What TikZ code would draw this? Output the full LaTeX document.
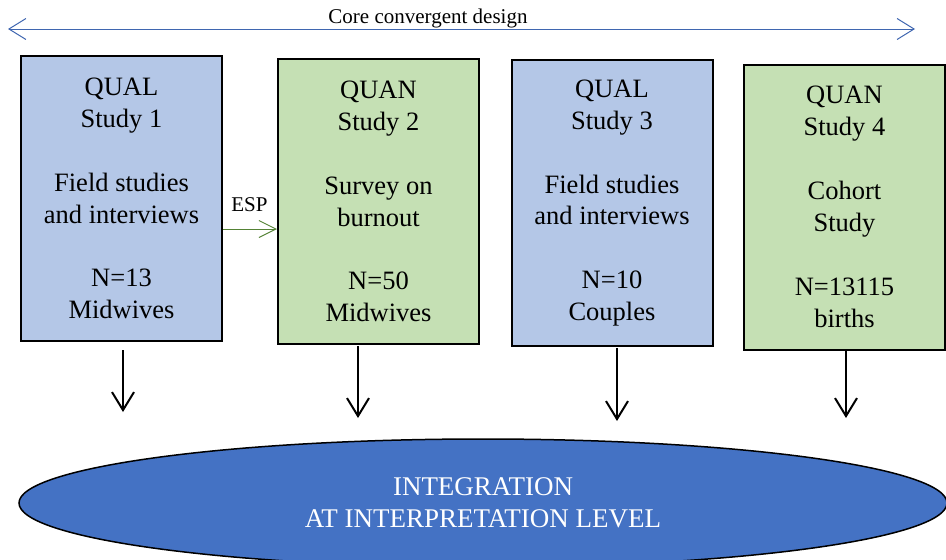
\documentclass[tikz,border=0pt]{standalone}
\usepackage{fontspec}
\setmainfont{Liberation Serif}
\usetikzlibrary{arrows.meta,shapes.geometric}
\definecolor{qualblue}{HTML}{B4C7E7}
\definecolor{quangreen}{HTML}{C5E0B4}
\definecolor{ellblue}{HTML}{4472C4}
\definecolor{topblue}{HTML}{3F66B0}
\definecolor{espgreen}{HTML}{548235}
\tikzset{
  studybox/.style={draw=black, line width=2pt, minimum width=201pt, inner sep=0pt, align=center,
    font=\fontsize{26.5}{31.9}\selectfont, text=black},
  qualbox/.style={studybox, fill=qualblue},
  quanbox/.style={studybox, fill=quangreen},
  downarrow/.style={draw=black, line width=2pt, -{Straight Barb[length=18pt,width=22pt,line width=2pt]}},
  toparrow/.style={draw=topblue, line width=1pt, {Straight Barb[length=17pt,width=21pt,line width=1pt]}-{Straight Barb[length=17pt,width=21pt,line width=1pt]}},
  esparrow/.style={draw=espgreen, line width=1pt, -{Straight Barb[length=17pt,width=17pt,line width=1pt]}},
  smalllabel/.style={font=\fontsize{21}{25}\selectfont, inner sep=0pt},
}
\begin{document}
\begin{tikzpicture}[x=1pt,y=-1pt]
\useasboundingbox (0,0) rectangle (946,560);
\clip (0,0) rectangle (946,560);

% top double arrow
\coordinate (tl) at (8,29);
\coordinate (tr) at (915,29);
\draw[toparrow] (tl) -- (tr);
\node[smalllabel] (core) at (428,18) {Core convergent design};

% boxes
\node[qualbox, minimum height=285pt] (b1) at (121.5,198.5)
  {QUAL\\Study 1\\[31.9pt]Field studies\\and interviews\\[31.9pt]N=13\\Midwives};
\node[quanbox, minimum height=285pt] (b2) at (378.5,201.5)
  {QUAN\\Study 2\\[31.9pt]Survey on\\burnout\\[31.9pt]N=50\\Midwives};
\node[qualbox, minimum height=286pt] (b3) at (612,203)
  {QUAL\\Study 3\\[31.9pt]Field studies\\and interviews\\[31.9pt]N=10\\Couples};
\node[quanbox, minimum height=285pt] (b4) at (844.5,207)
  {QUAN\\Study 4\\[31.9pt]Cohort\\Study\\[31.9pt]N=13115\\births};

% ESP arrow
\coordinate (espy) at (0,229);
\draw[esparrow] (b1.east |- espy) -- (b2.west |- espy);
\node[smalllabel] (esp) at (249.5,205) {ESP};

% integration ellipse
\node[ellipse, draw=black, line width=1.5pt, fill=ellblue, minimum width=928pt, minimum height=128pt,
  inner sep=0pt, align=center, text=white, font=\fontsize{27}{31.5}\selectfont] (integ) at (483,503)
  {INTEGRATION\\AT INTERPRETATION LEVEL};

% down arrows
\coordinate (s1) at (123,350); \coordinate (e1) at (123,412);
\coordinate (s2) at (358,346); \coordinate (e2) at (358,418);
\coordinate (s3) at (617,348); \coordinate (e3) at (617,421);
\coordinate (s4) at (846,350); \coordinate (e4) at (846,418);
\draw[downarrow] (s1) -- (e1);
\draw[downarrow] (s2) -- (e2);
\draw[downarrow] (s3) -- (e3);
\draw[downarrow] (s4) -- (e4);
\end{tikzpicture}
\end{document}
